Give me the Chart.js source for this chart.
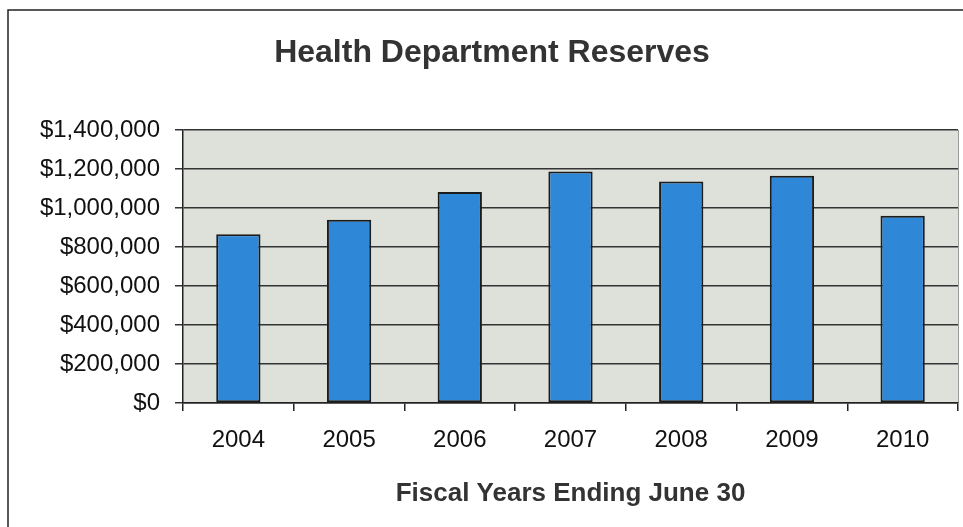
<!DOCTYPE html>
<html>
<head>
<meta charset="utf-8">
<script src="https://cdn.jsdelivr.net/npm/chart.js@4/dist/chart.umd.min.js"></script>
<style>
  html, body { margin: 0; padding: 0; background: #fff; overflow: hidden; }
  #wrap { width: 963px; height: 527px; position: relative; }
</style>
</head>
<body>
<div id="wrap"><canvas id="reserves"></canvas></div>
<script>
const years = ['2004', '2005', '2006', '2007', '2008', '2009', '2010'];
const reserves = [865000, 940000, 1082000, 1187000, 1136000, 1165000, 960000];
const yMax = 1400000;
const yStep = 200000;

// plot background and the outer frame lines
const backdrop = {
	id: 'backdrop',
	beforeDraw(chart) {
		const { ctx, chartArea: a } = chart;
		ctx.save();
		ctx.fillStyle = '#dee1da';
		ctx.fillRect(a.left, a.top, a.right - a.left, a.bottom - a.top);
		ctx.strokeStyle = '#9a9a9a';
		ctx.lineWidth = 1;
		ctx.beginPath();
		ctx.moveTo(a.right + 0.5, a.top);
		ctx.lineTo(a.right + 0.5, a.bottom);
		ctx.stroke();
		ctx.strokeStyle = '#222';
		ctx.lineWidth = 1.5;
		ctx.beginPath();
		ctx.moveTo(8, 527);
		ctx.lineTo(8, 10);
		ctx.lineTo(963, 10);
		ctx.stroke();
		ctx.restore();
	}
};

new Chart(document.getElementById('reserves'), {
	type: 'bar',
	data: {
		labels: years,
		datasets: [{
			data: reserves,
			backgroundColor: '#2f87d8',
			borderColor: '#1c1c1c',
			borderWidth: 2,
			borderSkipped: false,
			barPercentage: 0.4,
			categoryPercentage: 1
		}]
	},
	options: {
		responsive: true,
		maintainAspectRatio: false,
		animation: false,
		layout: { autoPadding: false, padding: { left: 26, right: 5, top: 0, bottom: 0 } },
		plugins: {
			legend: { display: false },
			tooltip: { enabled: false },
			title: {
				display: true,
				text: 'Health Department Reserves',
				color: '#333',
				font: { family: 'Arial, "Liberation Sans"', size: 32, weight: 'bold' },
				padding: { top: 34, bottom: 57.6 }
			}
		},
		scales: {
			x: {
				grid: { offset: true, drawOnChartArea: false, color: '#222', lineWidth: 1.5, tickLength: 8 },
				border: { color: '#222', width: 1.5 },
				ticks: { color: '#111', padding: 15, font: { family: 'Arial, "Liberation Sans"', size: 24 } },
				title: {
					display: true,
					text: 'Fiscal Years Ending June 30',
					color: '#333',
					font: { family: 'Arial, "Liberation Sans"', size: 26, weight: 'bold' },
					padding: { top: 21, bottom: 18 }
				},
				afterFit(scale) { scale.height = 124; }
			},
			y: {
				min: 0,
				max: yMax,
				grid: { color: '#333', lineWidth: 1.5, tickLength: 8 },
				border: { color: '#222', width: 1.5 },
				ticks: {
					stepSize: yStep,
					color: '#111',
					padding: 15,
					font: { family: 'Arial, "Liberation Sans"', size: 24 },
					callback: v => '$' + v.toLocaleString('en-US')
				},
				afterFit(scale) { scale.width = 157; }
			}
		}
	},
	plugins: [backdrop]
});
</script>
</body>
</html>
